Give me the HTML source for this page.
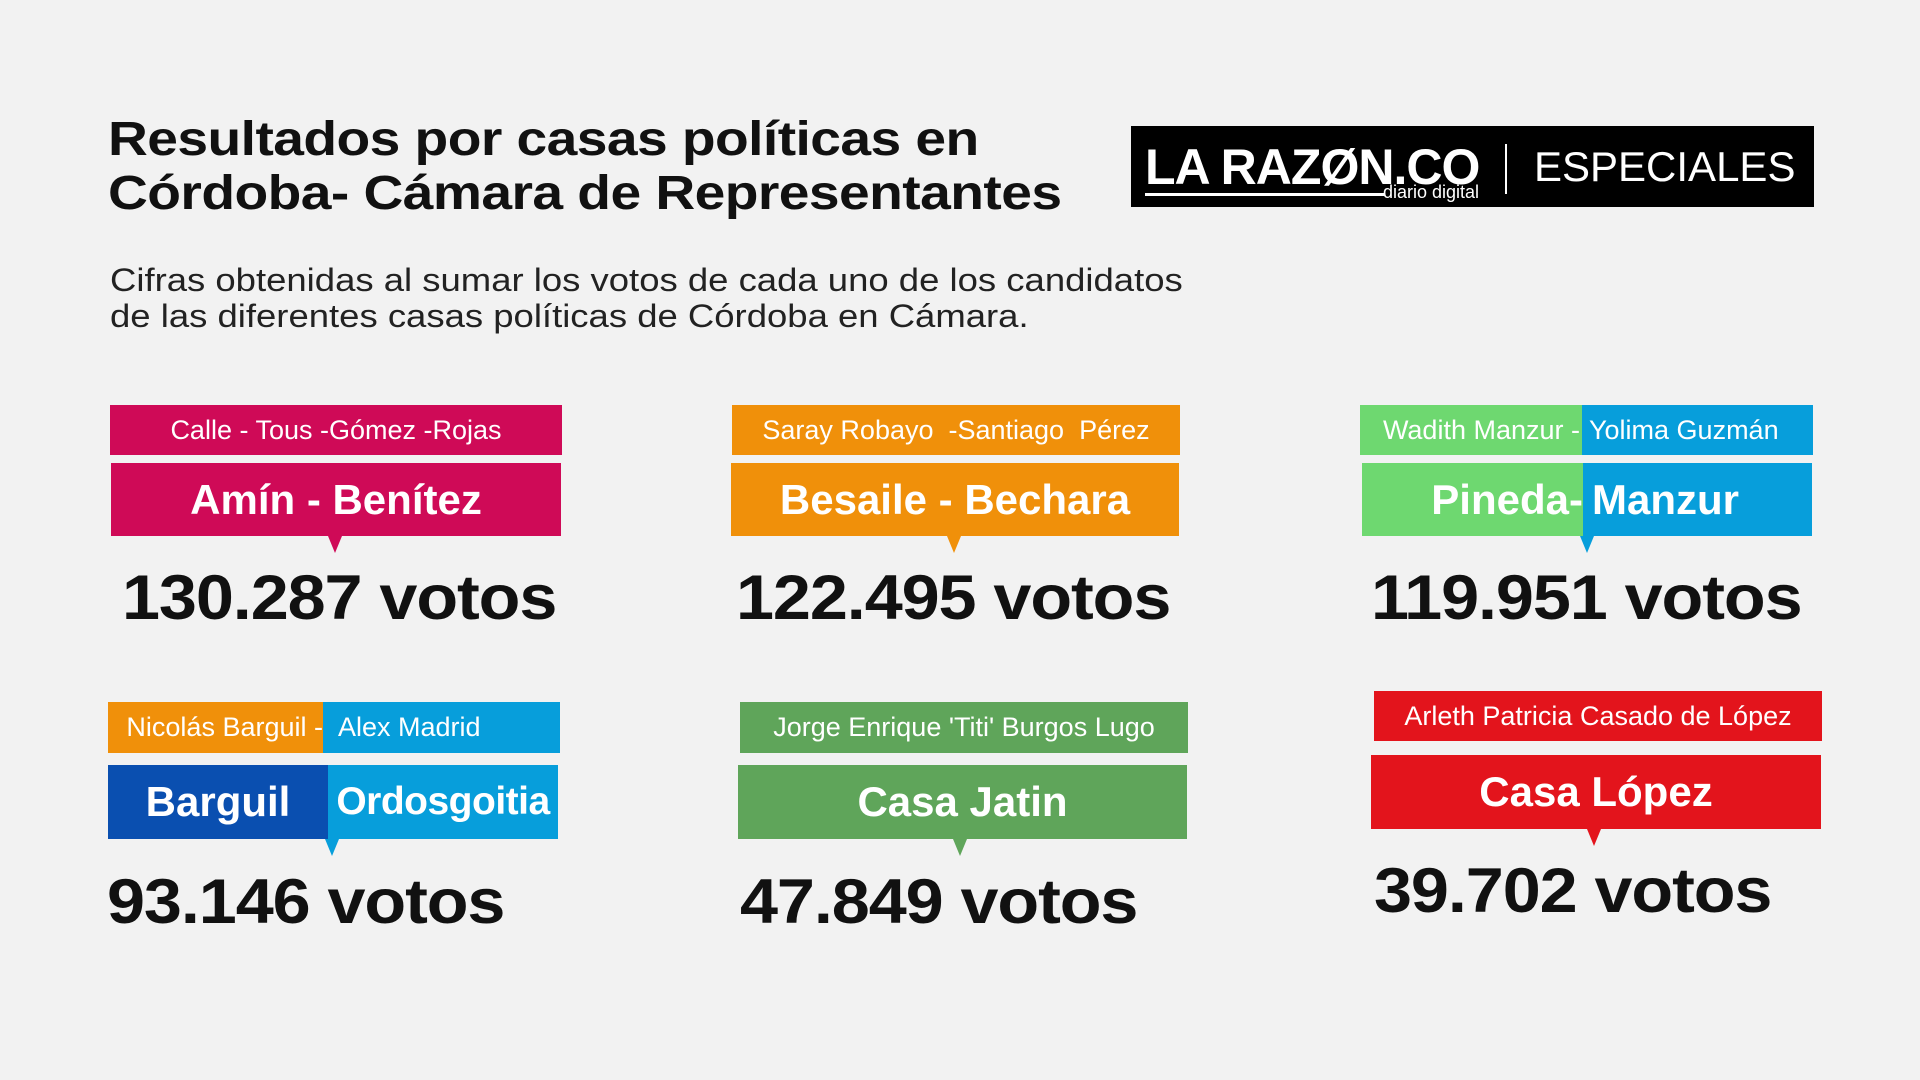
<!DOCTYPE html>
<html><head><meta charset="utf-8"><style>
*{margin:0;padding:0;box-sizing:border-box}
body{width:1920px;height:1080px;background:#f2f2f2;position:relative;overflow:hidden;font-family:"Liberation Sans",sans-serif}
.a{position:absolute}
.t{left:108px;font-weight:bold;font-size:48px;color:#111;line-height:56px;letter-spacing:-0.5px;transform:scaleX(1.15);transform-origin:left;white-space:nowrap}
.sub{left:110px;top:262px;font-size:32px;color:#222;line-height:36px;transform:scaleX(1.14);transform-origin:left;white-space:nowrap}
.lab{position:absolute;color:#fff;font-size:27px;display:flex;align-items:center;justify-content:center;white-space:nowrap}
.main{position:absolute;color:#fff;font-size:42px;font-weight:bold;display:flex;align-items:center;justify-content:center;white-space:nowrap}
.ptr{position:absolute;width:0;height:0;border-left:7px solid transparent;border-right:7px solid transparent;border-top:17px solid}
.v{position:absolute;font-weight:bold;font-size:63px;color:#111;white-space:nowrap;line-height:70px;letter-spacing:-1px;transform:scaleX(1.085);transform-origin:left}
.r{justify-content:flex-end}
.l{justify-content:flex-start}
</style></head><body>
<div class="a t" style="top:112px">Resultados por casas políticas en</div>
<div class="a t" style="top:166px">Córdoba- Cámara de Representantes</div>
<div class="a sub">Cifras obtenidas al sumar los votos de cada uno de los candidatos<br>de las diferentes casas políticas de Córdoba en Cámara.</div>

<div class="a" style="left:1131px;top:126px;width:683px;height:81px;background:#000;color:#fff">
 <div class="a" style="left:14px;top:12px;font-size:50px;font-weight:bold;letter-spacing:-1px">LA RAZØN.CO</div>
 <div class="a" style="left:14px;top:67px;width:240px;height:3px;background:#fff"></div>
 <div class="a" style="left:252px;top:56px;font-size:18px">diario digital</div>
 <div class="a" style="left:374px;top:18px;width:2px;height:50px;background:#fff"></div>
 <div class="a" style="left:403px;top:17px;font-size:42px;font-weight:300">ESPECIALES</div>
</div>

<!-- Box1 -->
<div class="lab" style="left:110px;top:405px;width:452px;height:50px;background:#cf0a57">Calle - Tous -Gómez -Rojas</div>
<div class="main" style="left:111px;top:463px;width:450px;height:73px;background:#cf0a57">Amín - Benítez</div>
<div class="ptr" style="left:328px;top:536px;border-top-color:#cf0a57"></div>
<div class="v" style="left:122px;top:563px">130.287 votos</div>

<!-- Box2 -->
<div class="lab" style="left:732px;top:405px;width:448px;height:50px;background:#f0900a">Saray Robayo &nbsp;-Santiago &nbsp;Pérez</div>
<div class="main" style="left:731px;top:463px;width:448px;height:73px;background:#f0900a">Besaile - Bechara</div>
<div class="ptr" style="left:947px;top:536px;border-top-color:#f0900a"></div>
<div class="v" style="left:736px;top:563px">122.495 votos</div>

<!-- Box3 -->
<div class="lab r" style="left:1360px;top:405px;width:222px;height:50px;background:#6ed870;padding-right:2px">Wadith Manzur -</div>
<div class="lab l" style="left:1582px;top:405px;width:231px;height:50px;background:#079edb;padding-left:7px">Yolima Guzmán</div>
<div class="main r" style="left:1362px;top:463px;width:221px;height:73px;background:#6ed870">Pineda-</div>
<div class="main l" style="left:1583px;top:463px;width:229px;height:73px;background:#079edb;padding-left:9px">Manzur</div>
<div class="ptr" style="left:1580px;top:536px;border-top-color:#079edb"></div>
<div class="v" style="left:1371px;top:563px">119.951 votos</div>

<!-- Box4 -->
<div class="lab r" style="left:108px;top:702px;width:215px;height:51px;background:#f0900a;padding-right:0">Nicolás Barguil -</div>
<div class="lab l" style="left:323px;top:702px;width:237px;height:51px;background:#079edb;padding-left:15px">Alex Madrid</div>
<div class="main" style="left:108px;top:765px;width:220px;height:74px;background:#0a4fb0">Barguil</div>
<div class="main" style="left:328px;top:765px;width:230px;height:74px;background:#079edb;font-size:39px;letter-spacing:-0.5px">Ordosgoitia</div>
<div class="ptr" style="left:325px;top:839px;border-top-color:#079edb"></div>
<div class="v" style="left:107px;top:867px">93.146 votos</div>

<!-- Box5 -->
<div class="lab" style="left:740px;top:702px;width:448px;height:51px;background:#5fa55a">Jorge Enrique 'Titi' Burgos Lugo</div>
<div class="main" style="left:738px;top:765px;width:449px;height:74px;background:#5fa55a">Casa Jatin</div>
<div class="ptr" style="left:953px;top:839px;border-top-color:#5fa55a"></div>
<div class="v" style="left:740px;top:867px">47.849 votos</div>

<!-- Box6 -->
<div class="lab" style="left:1374px;top:691px;width:448px;height:50px;background:#e3141c">Arleth Patricia Casado de López</div>
<div class="main" style="left:1371px;top:755px;width:450px;height:74px;background:#e3141c">Casa López</div>
<div class="ptr" style="left:1587px;top:829px;border-top-color:#e3141c"></div>
<div class="v" style="left:1374px;top:856px">39.702 votos</div>
</body></html>
